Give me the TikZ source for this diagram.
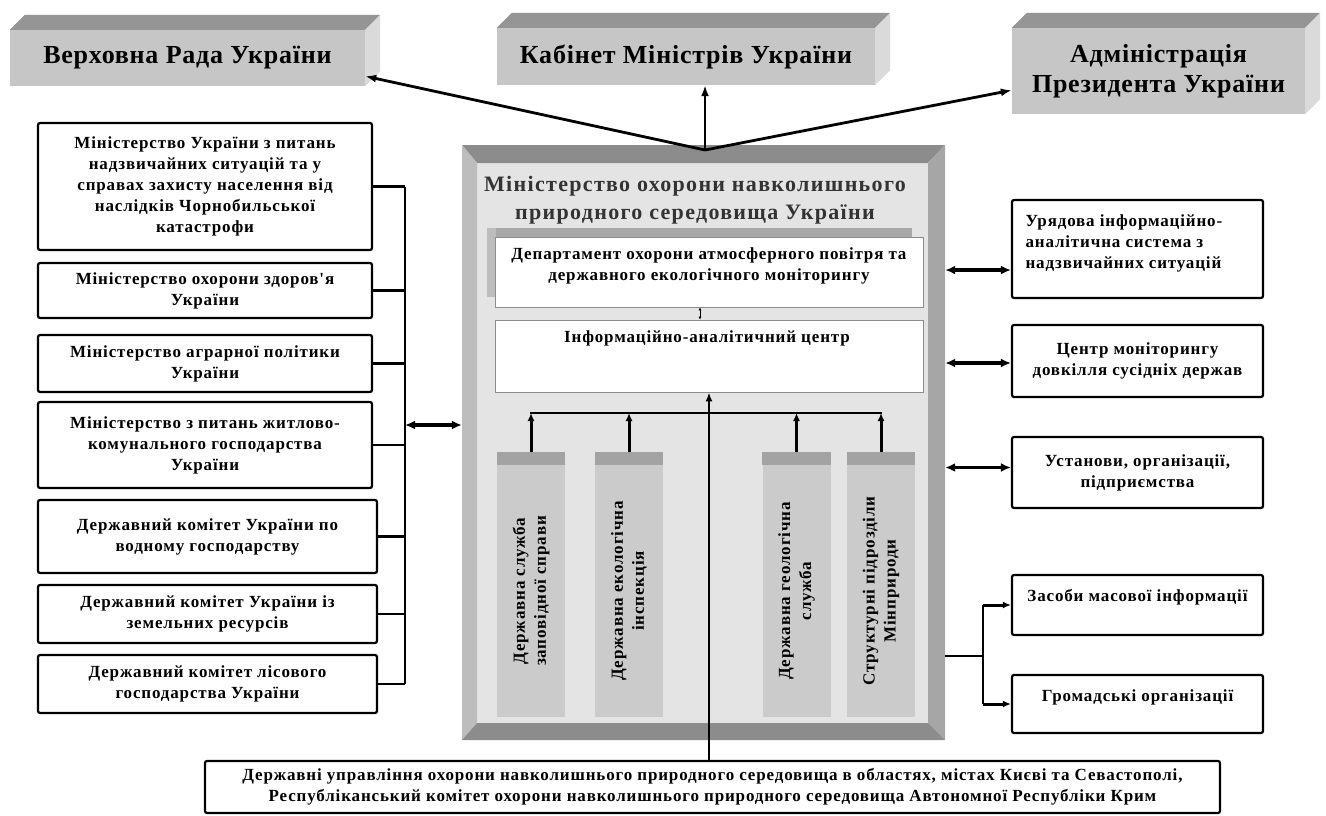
\documentclass[tikz,border=0pt]{standalone}
\usepackage{fontspec}
\setmainfont{Liberation Serif}
\newfontfamily\smf{Liberation Serif}[LetterSpace=5]
\newfontfamily\topf{Liberation Serif}[LetterSpace=3]
\newfontfamily\ttlf{Liberation Serif}[LetterSpace=6]
\usetikzlibrary{arrows.meta,calc}
\definecolor{frontgray}{HTML}{C6C6C6}
\definecolor{topgray}{HTML}{959595}
\definecolor{sidegray}{HTML}{DADADA}
\definecolor{innergray}{HTML}{E4E4E4}
\definecolor{bevdark}{HTML}{8C8C8C}
\definecolor{bevmid}{HTML}{A6A6A6}
\definecolor{bevlight}{HTML}{BDBDBD}
\definecolor{pillarc}{HTML}{CBCBCB}
\definecolor{pillartop}{HTML}{A3A3A3}
\definecolor{panelgray}{HTML}{A8A8A8}
\begin{document}
\begin{tikzpicture}[x=1pt,y=-1pt,
  smalltxt/.style={font=\smf\bfseries\fontsize{17}{21}\selectfont, align=center},
  lbox/.style={draw, line width=2.2pt, rounded corners=2pt, fill=white, smalltxt, inner sep=0pt},
  topbox/.style={fill=frontgray, inner sep=0pt, align=center, font=\topf\bfseries\fontsize{26}{30}\selectfont},
  wbox/.style={draw=black!45, line width=0.8pt, fill=white, inner sep=0pt},
  pillarbox/.style={fill=pillarc, inner sep=0pt, minimum width=68, minimum height=265},
  vtext/.style={smalltxt, rotate=90},
  arr/.style={line width=2.8pt, arrows={-Latex[length=11pt,width=8pt]}},
  smarr/.style={line width=3pt, arrows={-Latex[length=8pt,width=7pt]}},
  dbl/.style={line width=3.2pt, arrows={Latex[length=10pt,width=9pt]-Latex[length=10pt,width=9pt]}},
  conn/.style={line width=2.4pt}
]
\useasboundingbox (0,0) rectangle (1326,816);
\fill[white] (0,0) rectangle (1326,816);

% ---------- top 3D boxes ----------
\node[topbox, minimum width=355, minimum height=56] (vr) at (187.5,58) {Верховна Рада України};
\node[topbox, minimum width=378, minimum height=57] (km) at (686,56.5) {Кабінет Міністрів України};
\node[topbox, minimum width=293, minimum height=86] (ap) at (1158.5,71) {Адміністрація\\Президента України};
\foreach \b in {vr,km,ap}{
  \fill[topgray] (\b.north west) -- ++(15,-15) -- ($(\b.north east)+(15,-15)$) -- (\b.north east) -- cycle;
  \fill[sidegray] (\b.north east) -- ++(15,-15) -- ($(\b.south east)+(15,-15)$) -- (\b.south east) -- cycle;
}

% ---------- central ministry frame ----------
\node[minimum width=483, minimum height=595, inner sep=0pt] (mframe) at (703.5,442.5) {};
\fill[innergray] (477,163) rectangle (928,723);
\fill[bevdark] (462,145) -- (945,145) -- (928,163) -- (477,163) -- cycle;
\fill[bevlight] (462,145) -- (477,163) -- (477,723) -- (462,740) -- cycle;
\fill[bevmid] (945,145) -- (945,740) -- (928,723) -- (928,163) -- cycle;
\fill[bevdark] (462,740) -- (945,740) -- (928,723) -- (477,723) -- cycle;

\node[font=\ttlf\bfseries\fontsize{22}{28}\selectfont, align=center, text=black!80] (mtitle) at (695,200)
  {Міністерство охорони навколишнього\\природного середовища України};

% department panel
\fill[panelgray] (487,228) rectangle (912,237);
\fill[bevlight] (487,228) rectangle (496,297);
\node[wbox, minimum width=428, minimum height=70] (dept) at (709,272) {};
\node[smalltxt] (depttext) at (709,265.5) {Департамент охорони атмосферного повітря та\\державного екологічного моніторингу};
\node[wbox, minimum width=428, minimum height=72] (info) at (709,356) {};
\node[smalltxt] (infotext) at (707,338) {Інформаційно-аналітичний центр};
\draw[line width=0.8pt, arrows={Latex[length=3pt,width=3pt]-Latex[length=3pt,width=3pt]}] ($(dept.south)+(-9,0)$) -- ($(info.north)+(-9,0)$);

% pillars
\node[pillarbox] (p1) at (531,584.5) {};
\node[pillarbox] (p2) at (629,584.5) {};
\node[pillarbox] (p3) at (796.5,584.5) {};
\node[pillarbox] (p4) at (881,584.5) {};
\foreach \p in {p1,p2,p3,p4}{
  \fill[pillartop] (\p.north west) rectangle ($(\p.north east)+(0,13)$);
}
\node[vtext] (p1t) at (531,591) {Державна служба\\заповідної справи};
\node[vtext] (p2t) at (629,591) {Державна екологічна\\інспекція};
\node[vtext] (p3t) at (796.5,591) {Державна геологічна\\служба};
\node[vtext] (p4t) at (881,591) {Структурні підрозділи\\Мінприроди};

\coordinate (busL) at (531,413);
\coordinate (busR) at (881,413);
\draw[conn, line width=2.8pt, line cap=rect] (busL) -- (busR);
\foreach \p in {p1,p2,p3,p4}{
  \draw[smarr] (\p.north) -- (\p.north |- busL);
}

% ---------- left boxes ----------
\node[lbox, minimum width=334, minimum height=127] (L1) at (205,186.5) {Міністерство України з питань\\надзвичайних ситуацій та у\\справах захисту населення від\\наслідків Чорнобильської\\катастрофи};
\node[lbox, minimum width=334, minimum height=55] (L2) at (205,290.5) {Міністерство охорони здоров'я\\України};
\node[lbox, minimum width=334, minimum height=57] (L3) at (205,363.5) {Міністерство аграрної політики\\України};
\node[lbox, minimum width=334, minimum height=86] (L4) at (205,445) {Міністерство з питань житлово-\\комунального господарства\\України};
\node[lbox, minimum width=339, minimum height=73] (L5) at (207.5,536.5) {Державний комітет України по\\водному господарству};
\node[lbox, minimum width=339, minimum height=58] (L6) at (207.5,614) {Державний комітет України із\\земельних ресурсів};
\node[lbox, minimum width=339, minimum height=58] (L7) at (207.5,684) {Державний комітет лісового\\господарства України};

\coordinate (brk) at (405,425);
\foreach \l in {L1,L2,L3,L4,L5,L6,L7}{
  \draw[conn] (\l.east) -- (\l.east -| brk);
}
\draw[conn] (L1.east -| brk) -- (L7.east -| brk);
\draw[dbl] (brk) -- (brk -| mframe.west);

% ---------- right boxes ----------
\node[lbox, minimum width=251, minimum height=98] (R1) at (1137.5,249) {};
\node[smalltxt, align=left, anchor=west] (R1t) at (1022,243) {Урядова інформаційно-\\аналітична система з\\надзвичайних ситуацій};
\node[lbox, minimum width=251, minimum height=72] (R2) at (1137.5,361) {Центр моніторингу\\довкілля сусідніх держав};
\node[lbox, minimum width=251, minimum height=71] (R3) at (1137.5,472.5) {Установи, організації,\\підприємства};
\node[lbox, minimum width=251, minimum height=60] (R4) at (1137.5,605) {};
\node[smalltxt] (R4t) at (1137.5,597) {Засоби масової інформації};
\node[lbox, minimum width=251, minimum height=58] (R5) at (1137.5,704) {};
\node[smalltxt] (R5t) at (1137.5,697) {Громадські організації};

\coordinate (r1a) at ($(R1.south west)!0.29!(R1.north west)$);
\coordinate (r2a) at ($(R2.west)+(0,2)$);
\coordinate (r3a) at ($(R3.west)+(0,-5)$);
\draw[dbl] (r1a) -- (r1a -| mframe.east);
\draw[dbl] (r2a) -- (r2a -| mframe.east);
\draw[dbl] (r3a) -- (r3a -| mframe.east);

\coordinate (fork) at (983,656);
\draw[conn] (fork -| mframe.east) -- (fork);
\draw[conn] (fork |- R4.west) -- (fork |- R5.west);
\draw[smarr] (fork |- R4.west) -- (R4.west);
\draw[smarr] (fork |- R5.west) -- (R5.west);

% ---------- bottom box ----------
\node[lbox, minimum width=1015, minimum height=52] (bot) at (712.5,787) {Державні управління охорони навколишнього природного середовища в областях, містах Києві та Севастополі,\\Республіканський комітет охорони навколишнього природного середовища Автономної Республіки Крим};
\draw[line width=2pt, arrows={-Latex[length=9pt,width=7pt]}] (info.south |- bot.north) -- (info.south);

% ---------- top arrows ----------
\coordinate (hub) at (705,150);
\draw[arr] (hub) -- ($(vr.south east)+(0,-10)$);
\draw[arr] (hub) -- (hub |- km.south);
\draw[arr] (hub) -- ($(ap.south west)+(0,-24)$);
\end{tikzpicture}
\end{document}
